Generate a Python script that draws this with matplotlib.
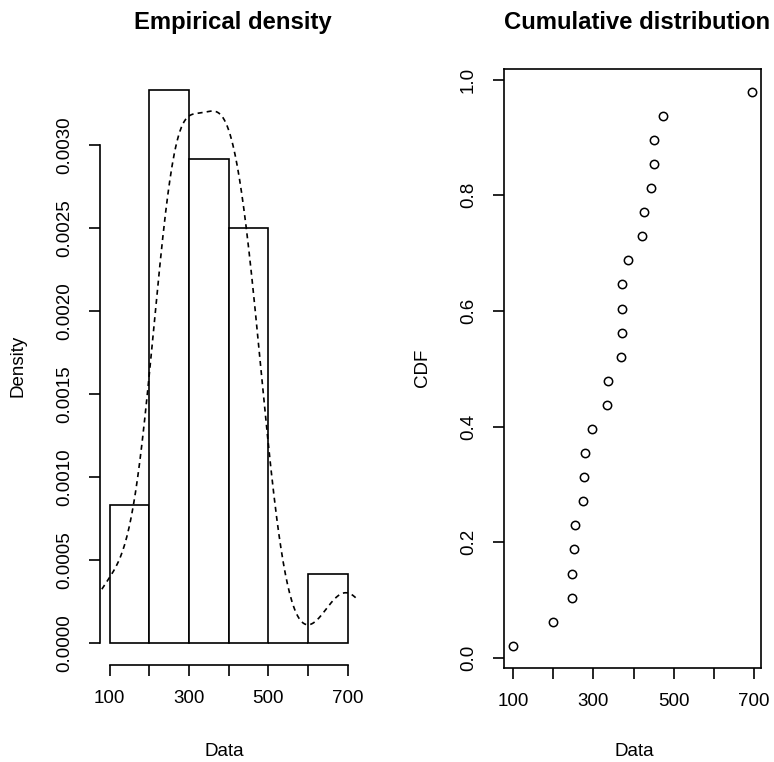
import numpy as np
import matplotlib
matplotlib.use("Agg")
import matplotlib.pyplot as plt

plt.rcParams['font.family'] = ['Liberation Sans', 'DejaVu Sans']

# ---- data ----
data_sorted = [100, 200, 246, 248, 251, 254, 274, 276, 279, 296, 333, 336,
               368, 371, 372, 372, 386, 422, 425, 443, 451, 451, 473, 695]
hist_edges = [100, 200, 300, 400, 500, 600, 700]
hist_density = [0.000833, 0.003333, 0.002917, 0.0025, 0.0, 0.000417]

x_ticks = [100, 200, 300, 400, 500, 600, 700]
x_ticklabels = ["100", "", "300", "", "500", "", "700"]
dens_yticks = [0.0, 0.0005, 0.0010, 0.0015, 0.0020, 0.0025, 0.0030]
dens_yticklabels = ["0.0000", "0.0005", "0.0010", "0.0015", "0.0020", "0.0025", "0.0030"]
cdf_yticks = [0.0, 0.2, 0.4, 0.6, 0.8, 1.0]
cdf_yticklabels = ["0.0", "0.2", "0.4", "0.6", "0.8", "1.0"]

W, H = 774, 762
fig = plt.figure(figsize=(W / 100, H / 100), dpi=100)

def px(x0, y0, x1, y1):
    return [x0 / W, 1 - y1 / H, (x1 - x0) / W, (y1 - y0) / H]

FS = 13.5
LW = 1.2
TICKLEN = 8

def r_pad(lo, hi):
    d = (hi - lo) * 0.04
    return lo - d, hi + d

# ---------- left: empirical density ----------
ax1 = fig.add_axes(px(100, 67.4, 357.3, 665.4))
widths = np.diff(hist_edges)
ax1.bar(hist_edges[:-1], hist_density, width=widths, align='edge',
        facecolor='white', edgecolor='black', linewidth=LW)

# kernel density estimate (Gaussian, R's bw.nrd0) of the data
d = np.asarray(data_sorted, dtype=float)
n = d.size
q1, q3 = np.percentile(d, [25, 75])
bw = 0.9 * min(d.std(ddof=1), (q3 - q1) / 1.34) * n ** (-0.2)
grid = np.linspace(d.min() - 3 * bw, d.max() + 3 * bw, 512)
kde = np.exp(-0.5 * ((grid[:, None] - d[None, :]) / bw) ** 2).sum(axis=1) / (n * bw * np.sqrt(2 * np.pi))
ax1.plot(grid, kde, color='black', linewidth=LW, linestyle=(0, (3, 2.5)))

ax1.set_xlim(*r_pad(hist_edges[0], hist_edges[-1]))
ax1.set_ylim(*r_pad(0, max(hist_density)))
for s in ['top', 'right']:
    ax1.spines[s].set_visible(False)
ax1.spines['left'].set_bounds(dens_yticks[0], dens_yticks[-1])
ax1.spines['bottom'].set_bounds(x_ticks[0], x_ticks[-1])
for s in ['left', 'bottom']:
    ax1.spines[s].set_linewidth(LW)
ax1.set_xticks(x_ticks)
ax1.set_xticklabels(x_ticklabels)
ax1.set_yticks(dens_yticks)
ax1.set_yticklabels(dens_yticklabels, rotation=90, va='center')

# ---------- right: cumulative distribution ----------
ax2 = fig.add_axes(px(503.5, 69.5, 761.5, 668))
cdf_y = (np.arange(1, n + 1) - 0.5) / n
ax2.plot(data_sorted, cdf_y, linestyle='none', marker='o', markersize=6,
         markerfacecolor='none', markeredgecolor='black', markeredgewidth=1.1)
ax2.set_xlim(*r_pad(min(data_sorted), max(data_sorted)))
ax2.set_ylim(*r_pad(cdf_y.min(), cdf_y.max()))
for s in ax2.spines.values():
    s.set_linewidth(LW)
ax2.set_xticks(x_ticks)
ax2.set_xticklabels(x_ticklabels)
ax2.set_yticks(cdf_yticks)
ax2.set_yticklabels(cdf_yticklabels, rotation=90, va='center')

for ax in (ax1, ax2):
    ax.tick_params(axis='both', direction='out', length=TICKLEN, width=LW,
                   labelsize=FS, colors='black')
    ax.tick_params(axis='x', pad=10)
    ax.tick_params(axis='y', pad=11)

# titles and axis labels
fig.text(233 / W, 1 - 29 / H, "Empirical density", ha='center', va='baseline',
         fontsize=17.2, fontweight='bold')
fig.text(637 / W, 1 - 29 / H, "Cumulative distribution", ha='center', va='baseline',
         fontsize=17.2, fontweight='bold')
fig.text(224 / W, 1 - 751 / H, "Data", ha='center', va='center', fontsize=FS)
fig.text(634 / W, 1 - 751 / H, "Data", ha='center', va='center', fontsize=FS)
fig.text(18 / W, 1 - 366 / H, "Density", ha='center', va='center', rotation=90, fontsize=FS)
fig.text(423 / W, 1 - 368 / H, "CDF", ha='center', va='center', rotation=90, fontsize=FS)

fig.savefig("out.png", dpi=100, facecolor='white')
